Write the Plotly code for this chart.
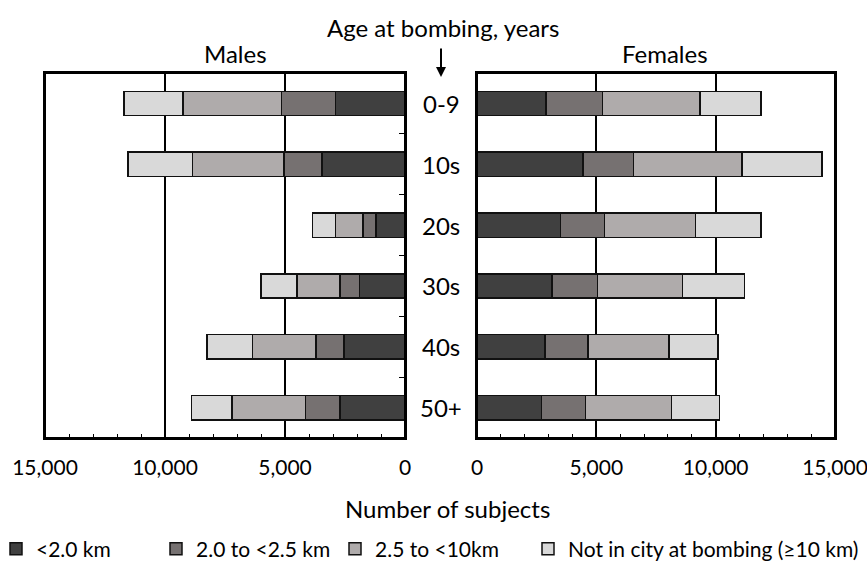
import plotly.graph_objects as go

# Age groups at time of bombing (top to bottom)
ages = ["0-9", "10s", "20s", "30s", "40s", "50+"]

# Distance categories, innermost (nearest hypocentre) first
distance_labels = ["<2.0 km", "2.0 to <2.5 km", "2.5 to <10km", "Not in city at bombing (≥10 km)"]
distance_colors = ["#404040", "#767171", "#AFABAB", "#D9D9D9"]

# Number of subjects per age group, by distance
males_lt2 = [2900, 3450, 1200, 1900, 2550, 2700]
males_2_25 = [2250, 1600, 550, 800, 1150, 1450]
males_25_10 = [4100, 3800, 1150, 1800, 2650, 3050]
males_nic = [2450, 2700, 950, 1500, 1900, 1700]

females_lt2 = [2900, 4450, 3500, 3150, 2850, 2700]
females_2_25 = [2350, 2100, 1850, 1900, 1800, 1850]
females_25_10 = [4100, 4550, 3800, 3550, 3400, 3600]
females_nic = [2550, 3350, 2750, 2600, 2050, 2000]

male_series = [males_lt2, males_2_25, males_25_10, males_nic]
female_series = [females_lt2, females_2_25, females_25_10, females_nic]

axis_ticks = [0, 5000, 10000, 15000]

W, H = 867, 563
FONT = "Lato"
TEXT_SIZE = 24

fig = go.Figure()
legend_ids = ["legend", "legend2", "legend3", "legend4"]

for i, (label, color) in enumerate(zip(distance_labels, distance_colors)):
    fig.add_trace(go.Bar(
        y=ages, x=male_series[i], orientation="h",
        name=label, legendgroup=label, showlegend=False,
        marker=dict(color=color, line=dict(color="#111111", width=1.5)),
        xaxis="x", yaxis="y",
    ))
    fig.add_trace(go.Bar(
        y=ages, x=female_series[i], orientation="h",
        name=label, legendgroup=label, showlegend=True,
        legend=legend_ids[i],
        marker=dict(color=color, line=dict(color="#111111", width=1.5)),
        xaxis="x2", yaxis="y2",
    ))

common_x = dict(
    tickvals=axis_ticks, tickformat=",", ticks="", ticklabelstandoff=10,
    ticklabeloverflow="allow",
    showgrid=True, gridcolor="black", gridwidth=2,
    showline=True, mirror=True, linecolor="black", linewidth=2,
    zeroline=False,
    minor=dict(dtick=1000, tick0=0, ticks="inside", ticklen=4, tickwidth=1,
               tickcolor="black", showgrid=False),
    tickfont=dict(family=FONT, size=21, color="black"),
)
common_y = dict(
    type="category", categoryorder="array", categoryarray=ages,
    autorange="reversed", showticklabels=False,
    showline=True, mirror=True, linecolor="black", linewidth=2,
    showgrid=False, zeroline=False,
)

y_dom = [(H - 438) / H, (H - 73) / H]

fig.update_layout(
    width=W, height=H,
    margin=dict(l=0, r=0, t=0, b=0, autoexpand=False),
    paper_bgcolor="white", plot_bgcolor="white",
    barmode="stack", bargap=0.6,
    font=dict(family=FONT, size=TEXT_SIZE, color="black"),
    xaxis=dict(domain=[45 / W, 405 / W], range=[15000, 0], anchor="y", **common_x),
    xaxis2=dict(domain=[477 / W, 835 / W], range=[0, 15000], anchor="y2", **common_x),
    yaxis=dict(domain=y_dom, anchor="x", side="right", ticks="inside",
               tickson="boundaries", ticklen=6, tickwidth=1, tickcolor="black",
               **common_y),
    yaxis2=dict(domain=y_dom, anchor="x2", ticks="", **common_y),
)

# Full frame around each panel
for xr, yr in (("x domain", "y domain"), ("x2 domain", "y2 domain")):
    fig.add_shape(type="rect", xref=xr, yref=yr, x0=0, x1=1, y0=0, y1=1,
                  line=dict(color="black", width=2), layer="above")

# One legend per distance category, laid out in a row under the chart
legend_x = [18, 178, 357, 550]
for lid, lx in zip(legend_ids, legend_x):
    fig.update_layout({lid: dict(
        x=(lx - 22) / W, y=1 - 549 / H, xanchor="left", yanchor="middle",
        orientation="h", bgcolor="rgba(0,0,0,0)", borderwidth=0,
        font=dict(family=FONT, size=21, color="black"),
        itemwidth=30, tracegroupgap=0,
    )})

annotations = [
    dict(text="Age at bombing, years", x=443 / W, y=1 - 27 / H),
    dict(text="Males", x=235 / W, y=1 - 53 / H),
    dict(text="Females", x=665 / W, y=1 - 53 / H),
    dict(text="Number of subjects", x=447 / W, y=1 - 508 / H),
]
for a in annotations:
    fig.add_annotation(xref="paper", yref="paper", xanchor="center", yanchor="middle",
                       showarrow=False, font=dict(family=FONT, size=TEXT_SIZE, color="black"), **a)

# Downward arrow pointing at the age labels
fig.add_annotation(xref="paper", yref="paper", x=441 / W, y=1 - 77 / H, text="",
                   showarrow=True, ax=0, ay=-30, arrowhead=2, arrowsize=1,
                   arrowwidth=2, arrowcolor="black")

# Age group labels between the two panels
for age in ages:
    fig.add_annotation(xref="paper", yref="y", x=441 / W, y=age, text=age,
                       showarrow=False, xanchor="center", yanchor="middle",
                       font=dict(family=FONT, size=TEXT_SIZE, color="black"))

fig.write_html("out.html")
